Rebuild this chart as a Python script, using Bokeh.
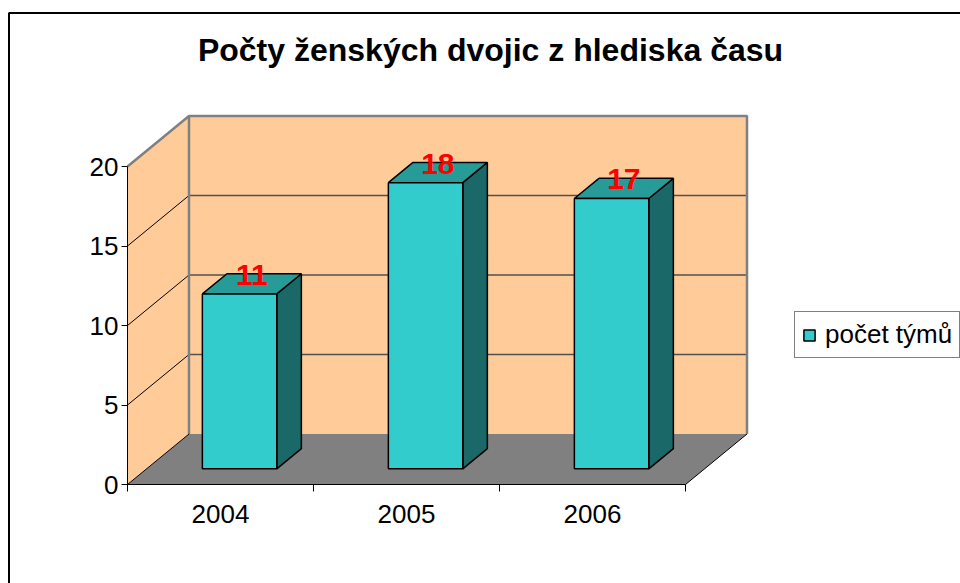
import numpy as np
from bokeh.plotting import figure
from bokeh.models import (LinearAxis, FixedTicker, Range1d, Legend, LegendItem,
                          Label)
from bokeh.embed import file_html
from bokeh.resources import INLINE
from bokeh.core.properties import value

# ---------------- data ----------------
categories = ["2004", "2005", "2006"]
counts = [11, 18, 17]
y_ticks = [0, 5, 10, 15, 20]
title_text = "Počty ženských dvojic z hlediska času"
series_name = "počet týmů"

# ---------------- layout constants ----------------
W, H = 960, 583
SX, SY = 186.0, 15.9          # px per category / px per value unit
X0, Y0 = 127, 99              # canvas px of front-left floor corner (from left, from bottom)
EDGE = -0.5                   # data x of the front-left edge
x_start = EDGE - X0 / SX
x_end = x_start + W / SX
y_start = -Y0 / SY
y_end = y_start + H / SY
DX, DY = 61.5 / SX, 50.5 / SY  # depth vector in data units
F1, F2 = 0.31, 0.71            # bar depth positions (fraction of depth)
BW = 0.4                       # bar width (fraction of category)

FONT = "Liberation Sans"

p = figure(width=W, height=H, x_range=Range1d(x_start, x_end),
           y_range=Range1d(y_start, y_end), x_axis_location=None,
           y_axis_location=None, toolbar_location=None, tools="",
           output_backend="svg", min_border=0)
p.outline_line_color = None
p.background_fill_color = "white"
p.border_fill_color = "white"
p.grid.visible = False

n = len(categories)
ymax = y_ticks[-1]
xl, xr = EDGE, EDGE + n

# walls and floor
wall_xs = [[xl, xl, xl + DX, xl + DX],
           [xl + DX, xl + DX, xr + DX, xr + DX]]
wall_ys = [[0, ymax, ymax + DY, DY],
           [DY, ymax + DY, ymax + DY, DY]]
p.patches(wall_xs, wall_ys, fill_color="#FFCC99", line_color=None)
p.patch([xl, xr, xr + DX, xl + DX], [0, 0, DY, DY], fill_color="#808080",
        line_color=None)

# gridlines
for t in y_ticks[1:-1]:
    p.line([xl, xl + DX], [t, t + DY], line_color="black", line_width=1)
    p.line([xl + DX, xr + DX], [t + DY, t + DY], line_color="#505050", line_width=1.5)

# wall edges
p.line([xl, xl + DX, xr + DX, xr + DX], [ymax, ymax + DY, ymax + DY, DY],
       line_color="#808080", line_width=2.5)
p.line([xl + DX, xl + DX], [DY, ymax + DY], line_color="#808080", line_width=2.5)
# floor side edges
p.line([xl, xl + DX], [0, DY], line_color="black", line_width=1)
p.line([xr, xr + DX], [0, DY], line_color="black", line_width=1)

# bars
front_xs, front_ys, top_xs, top_ys, side_xs, side_ys = [], [], [], [], [], []
lab_x, lab_y, lab_t = [], [], []
bdx, bdy = (F2 - F1) * DX, (F2 - F1) * DY
for i, v in enumerate(counts):
    x0 = i - BW / 2 + F1 * DX
    x1 = x0 + BW
    yb = F1 * DY
    yt = yb + v
    front_xs.append([x0, x1, x1, x0]); front_ys.append([yb, yb, yt, yt])
    top_xs.append([x0, x1, x1 + bdx, x0 + bdx]); top_ys.append([yt, yt, yt + bdy, yt + bdy])
    side_xs.append([x1, x1 + bdx, x1 + bdx, x1]); side_ys.append([yb, yb + bdy, yt + bdy, yt])
    lab_x.append((x0 + x1) / 2 + bdx / 2)
    lab_y.append(yt + bdy / 2 + 9 / SY)
    lab_t.append(str(v))

p.patches(side_xs, side_ys, fill_color="#1B6868", line_color="black", line_width=1.5)
p.patches(top_xs, top_ys, fill_color="#279B98", line_color="black", line_width=1.5)
front = p.patches(front_xs, front_ys, fill_color="#33CCCC", line_color="black",
                  line_width=1.5)

p.text(lab_x, lab_y, text=lab_t, text_color="#FF0000", text_font=value(FONT),
       text_font_style="bold", text_font_size="30px", text_align="center",
       text_baseline="middle")

# axes
yaxis = LinearAxis(fixed_location=EDGE, bounds=(0, ymax),
                   ticker=FixedTicker(ticks=y_ticks))
yaxis.axis_line_color = "black"
yaxis.major_tick_line_color = "black"
yaxis.major_tick_out = 6
yaxis.major_tick_in = 0
yaxis.minor_tick_line_color = None
yaxis.major_label_text_font = FONT
yaxis.major_label_text_font_size = "26px"
yaxis.major_label_text_color = "black"
yaxis.major_label_standoff = 3
p.add_layout(yaxis, "left")

xtick_axis = LinearAxis(fixed_location=0, bounds=(xl, xr),
                        ticker=FixedTicker(ticks=[EDGE + k for k in range(n + 1)]))
xtick_axis.axis_line_color = "black"
xtick_axis.major_tick_line_color = "black"
xtick_axis.major_tick_out = 7
xtick_axis.major_tick_in = 0
xtick_axis.minor_tick_line_color = None
xtick_axis.major_label_text_color = None
p.add_layout(xtick_axis, "below")

xlab_axis = LinearAxis(fixed_location=0, ticker=FixedTicker(ticks=list(range(n))),
                       major_label_overrides={i: c for i, c in enumerate(categories)})
xlab_axis.axis_line_color = None
xlab_axis.major_tick_line_color = None
xlab_axis.minor_tick_line_color = None
xlab_axis.major_label_text_font = FONT
xlab_axis.major_label_text_font_size = "26px"
xlab_axis.major_label_text_color = "black"
xlab_axis.major_label_standoff = 14
p.add_layout(xlab_axis, "below")

# outer chart border (left and top)
bx = x_start + 8.5 / SX
by = y_end - 12.5 / SY
p.line([bx, bx, x_end], [y_start, by, by], line_color="black", line_width=2)

# title
p.add_layout(Label(x=x_start + 490 / SX, y=y_end - 49 / SY, text=title_text,
                   text_font=FONT, text_font_style="bold", text_font_size="32px",
                   text_align="center", text_baseline="middle",
                   text_color="black"))

# legend
legend = Legend(items=[LegendItem(label=series_name, renderers=[front])],
                location=(794, H - 358), orientation="vertical",
                label_text_font=FONT, label_text_font_size="26px",
                label_text_color="black", glyph_width=14, glyph_height=14,
                label_standoff=9, padding=7, margin=0, spacing=0,
                border_line_color="black", border_line_width=1,
                background_fill_color="white", background_fill_alpha=1)
p.add_layout(legend, "center")

open("out.html", "w").write(file_html(p, INLINE))
